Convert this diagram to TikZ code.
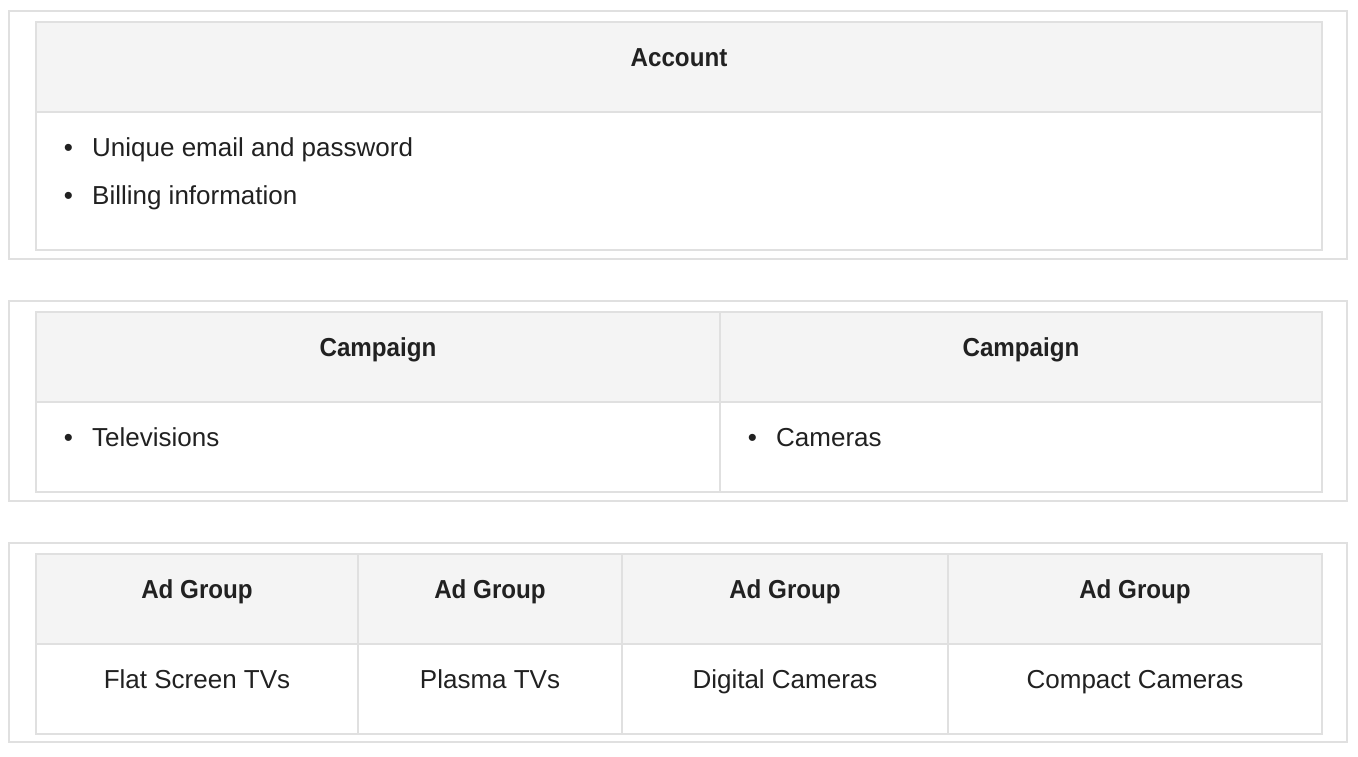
\documentclass[tikz,border=0pt]{standalone}
\usepackage{fontspec}
\setmainfont{Liberation Sans}
\newfontface\headfont{Liberation Sans Bold}[FakeStretch=0.93]
\definecolor{bordc}{HTML}{E0E0E0}
\definecolor{headc}{HTML}{F4F4F4}
\definecolor{txtc}{HTML}{212121}
\begin{document}
\begin{tikzpicture}[x=1pt,y=-1pt,
  outerbox/.style={draw=bordc, line width=2pt},
  cell/.style={draw=bordc, line width=2pt, inner sep=0pt, anchor=north west},
  headcell/.style={cell, fill=headc},
  txt/.style={inner sep=0pt, text=txtc, font=\fontsize{26}{30}\selectfont},
  headtxt/.style={inner sep=0pt, text=txtc, font=\fontsize{26}{30}\headfont, anchor=base},
  bodytxt/.style={txt, anchor=base},
  item/.style={txt, anchor=base west},
  bul/.style={txt, anchor=base}]
\useasboundingbox (0,0) rectangle (1358,756);
\fill[white] (0,0) rectangle (1358,756);
% outer boxes
\draw[outerbox] (9,11) rectangle (1347,259);
\draw[outerbox] (9,301) rectangle (1347,501);
\draw[outerbox] (9,543) rectangle (1347,742);
% Account
\node[headcell, minimum width=1286pt, minimum height=90pt] (acch) at (35,21) {};
\node[cell, minimum width=1286pt, minimum height=138pt] (accb) at (35,111) {};
\node[headtxt] (acct) at ([yshift=-45pt]acch.north) {Account};
\node[bul] (b1) at (68.5,156) {•};
\node[item] (t1) at (92,156) {Unique email and password};
\node[bul] (b2) at (68.5,204) {•};
\node[item] (t2) at (92,204) {Billing information};
% Campaigns
\node[headcell, minimum width=684pt, minimum height=90pt] (c1h) at (35,311) {};
\node[cell, minimum width=684pt, minimum height=90pt] (c1b) at (35,401) {};
\node[headcell, minimum width=602pt, minimum height=90pt] (c2h) at (719,311) {};
\node[cell, minimum width=602pt, minimum height=90pt] (c2b) at (719,401) {};
\node[headtxt] (c1t) at ([yshift=-45pt]c1h.north) {Campaign};
\node[headtxt] (c2t) at ([yshift=-45pt]c2h.north) {Campaign};
\node[bul] (b3) at (68.5,446) {•};
\node[item] (t3) at (92,446) {Televisions};
\node[bul] (b4) at (752.5,446) {•};
\node[item] (t4) at (776,446) {Cameras};
% Ad groups
\node[headcell, minimum width=322pt, minimum height=90pt] (a1h) at (35,553) {};
\node[cell, minimum width=322pt, minimum height=90pt] (a1b) at (35,643) {};
\node[headcell, minimum width=264pt, minimum height=90pt] (a2h) at (357,553) {};
\node[cell, minimum width=264pt, minimum height=90pt] (a2b) at (357,643) {};
\node[headcell, minimum width=326pt, minimum height=90pt] (a3h) at (621,553) {};
\node[cell, minimum width=326pt, minimum height=90pt] (a3b) at (621,643) {};
\node[headcell, minimum width=374pt, minimum height=90pt] (a4h) at (947,553) {};
\node[cell, minimum width=374pt, minimum height=90pt] (a4b) at (947,643) {};
\node[headtxt] (a1t) at ([yshift=-45pt]a1h.north) {Ad Group};
\node[headtxt] (a2t) at ([yshift=-45pt]a2h.north) {Ad Group};
\node[headtxt] (a3t) at ([yshift=-45pt]a3h.north) {Ad Group};
\node[headtxt] (a4t) at ([yshift=-45pt]a4h.north) {Ad Group};
\node[bodytxt] (a1x) at ([yshift=-45pt]a1b.north) {Flat Screen TVs};
\node[bodytxt] (a2x) at ([yshift=-45pt]a2b.north) {Plasma TVs};
\node[bodytxt] (a3x) at ([yshift=-45pt]a3b.north) {Digital Cameras};
\node[bodytxt] (a4x) at ([yshift=-45pt]a4b.north) {Compact Cameras};
\end{tikzpicture}
\end{document}
